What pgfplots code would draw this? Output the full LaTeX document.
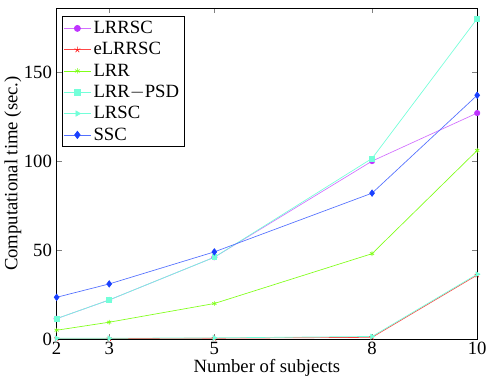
\documentclass[border=0pt]{standalone}
\usepackage{fontspec}
\setmainfont{Liberation Serif}
\usepackage{pgfplots}
\pgfplotsset{compat=1.18}

\definecolor{cPurple}{rgb}{0.75,0.2,1}
\definecolor{cRed}{rgb}{1,0.1,0.1}
\definecolor{cGreen}{rgb}{0.5,1,0.1}
\definecolor{cAqua}{rgb}{0.45,1,0.85}
\definecolor{cBlue}{rgb}{0.1,0.25,1}

\begin{document}
\begin{tikzpicture}
\begin{axis}[
    scale only axis,
    width=315pt, height=248pt,
    xmin=2, xmax=10, ymin=0, ymax=186,
    xtick={2,3,5,8,10}, ytick={0,50,100,150},
    tick align=inside,
    tick style={gray, thin},
    major tick length=4pt,
    axis line style={black, thin},
    xlabel={Number of subjects},
    ylabel={Computational time (sec.)},
    xlabel style={yshift=4pt},
    ylabel style={yshift=-5pt},
    ticklabel style={font=\fontsize{14}{15}\selectfont},
    xticklabel style={yshift=1pt},
    label style={font=\fontsize{14}{15}\selectfont},
    /pgf/number format/assume math mode=true,
    legend style={at={(0.012,0.975)}, anchor=north west, draw=black,
        font=\fontsize{14}{15}\selectfont, inner sep=1.5pt, row sep=1.2pt,
        cells={anchor=west}},
    legend cell align=left,
    legend image post style={scale=1.15},
    every axis plot/.append style={line width=0.5pt, mark size=2pt},
]
\addplot[color=cPurple!70, mark=*, mark options={draw=cPurple, fill=cPurple}]
    coordinates {(2,11.5) (3,22) (5,46) (8,100) (10,127)};
\addlegendentry{LRRSC}
\addplot[color=cRed!80, mark=star, mark options={draw=cRed}]
    coordinates {(2,0.3) (3,0.3) (5,0.5) (8,1) (10,36)};
\addlegendentry{eLRRSC}
\addplot[color=cGreen, mark=asterisk, mark options={draw=cGreen, mark size=1.8pt}]
    coordinates {(2,5) (3,9.5) (5,20) (8,48) (10,106)};
\addlegendentry{LRR}
\addplot[color=cAqua, mark=square*, mark options={draw=cAqua, fill=cAqua, mark size=1.8pt}]
    coordinates {(2,11.5) (3,22) (5,46) (8,101.5) (10,180)};
\addlegendentry{LRR$-$PSD}
\addplot[color=cAqua, mark=triangle*, mark options={draw=cAqua, fill=cAqua, rotate=-90}]
    coordinates {(2,0.5) (3,0.5) (5,0.7) (8,1.5) (10,36.5)};
\addlegendentry{LRSC}
\addplot[color=cBlue!75, mark=diamond*, mark options={draw=cBlue, fill=cBlue, mark size=2.4pt}]
    coordinates {(2,23.5) (3,31) (5,49) (8,82) (10,137)};
\addlegendentry{SSC}
\end{axis}
\path ([yshift=6pt]current axis.north west);
\end{tikzpicture}
\end{document}
